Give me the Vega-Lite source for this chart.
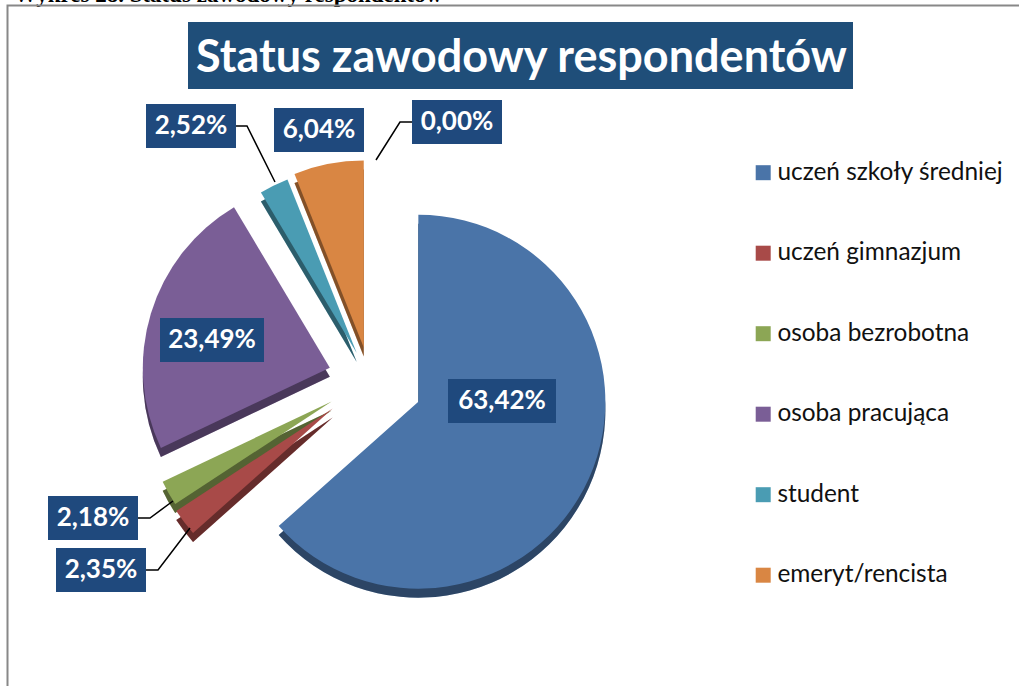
{
"$schema":"https://vega.github.io/schema/vega-lite/v6.json",
"width":1019,"height":686,"padding":0,
"autosize":{"type":"none"},
"background":"white",
"view":{"stroke":null},
"title":{"text":"Status zawodowy respondentów","orient":"none","anchor":"start","frame":"group","dx":196,"dy":72,"font":"Lato","fontSize":45,"fontWeight":"bold","color":"white","baseline":"alphabetic"},
"datasets":{
"slices":[
{"name":"uczeń szkoły średniej","value":63.42,"explode":53},
{"name":"uczeń gimnazjum","value":2.35,"explode":47},
{"name":"osoba bezrobotna","value":2.18,"explode":44},
{"name":"osoba pracująca","value":23.49,"explode":42},
{"name":"student","value":2.52,"explode":30},
{"name":"emeryt/rencista","value":6.04,"explode":33}
],
"callouts":[
{"label":"63,42%","x0":448,"x1":556,"y0":379,"y1":423},
{"label":"2,35%","x0":56,"x1":146,"y0":548,"y1":592},
{"label":"2,18%","x0":48,"x1":138,"y0":496,"y1":540},
{"label":"23,49%","x0":160,"x1":264,"y0":318,"y1":362},
{"label":"2,52%","x0":146,"x1":236,"y0":104,"y1":148},
{"label":"6,04%","x0":274,"x1":364,"y0":108,"y1":152},
{"label":"0,00%","x0":412,"x1":502,"y0":100,"y1":144}
],
"leaders":[
{"k":"a","s":1,"x":236,"y":126},{"k":"a","s":2,"x":247,"y":126},{"k":"a","s":3,"x":275,"y":182},
{"k":"b","s":1,"x":412,"y":122},{"k":"b","s":2,"x":400,"y":122},{"k":"b","s":3,"x":376,"y":160},
{"k":"c","s":1,"x":138,"y":518},{"k":"c","s":2,"x":150,"y":518},{"k":"c","s":3,"x":173,"y":501},
{"k":"d","s":1,"x":146,"y":570},{"k":"d","s":2,"x":158,"y":570},{"k":"d","s":3,"x":190,"y":528}
],
"frame":[
{"k":"f","s":1,"x":7.5,"y":686},{"k":"f","s":2,"x":7.5,"y":5.5},{"k":"f","s":3,"x":1019,"y":5.5}
],
"titlebox":[{"x0":188,"x1":853,"y0":22,"y1":89}],
"caption":[{"t":"Wykres 28. Status zawodowy respondentów","x":14,"y":1.5}]
},
"layer":[
{"data":{"name":"caption"},"mark":{"type":"text","font":"Liberation Serif","fontWeight":"bold","fontSize":23,"align":"left","baseline":"alphabetic","color":"black"},
 "encoding":{"x":{"field":"x","type":"quantitative","scale":{"domain":[0,1019],"nice":false,"zero":false},"axis":null},
  "y":{"field":"y","type":"quantitative","scale":{"domain":[686,0],"nice":false,"zero":false},"axis":null},"text":{"field":"t"}}},
{"data":{"name":"frame"},"mark":{"type":"line","color":"#888888","strokeWidth":2,"interpolate":"linear"},
 "encoding":{"x":{"field":"x","type":"quantitative"},
  "y":{"field":"y","type":"quantitative"},
  "order":{"field":"s"},"detail":{"field":"k"}}},
{"data":{"name":"titlebox"},"mark":{"type":"rect","color":"#1F4E79"},
 "encoding":{"x":{"field":"x0","type":"quantitative"},"x2":{"field":"x1"},"y":{"field":"y0","type":"quantitative"},"y2":{"field":"y1"}}},
{"data":{"name":"slices"},
 "transform":[
  {"window":[{"op":"sum","field":"value","as":"end"}],"frame":[null,0]},
  {"calculate":"datum.end-datum.value","as":"start"},
  {"calculate":"(datum.start+datum.end)/200*2*PI","as":"mid"},
  {"calculate":"370+datum.explode*sin(datum.mid)","as":"cx"},
  {"calculate":"380-datum.explode*cos(datum.mid)","as":"cy"},
  {"calculate":"datum.cy+9","as":"cyDepth"}
 ],
 "encoding":{
  "x":{"field":"cx","type":"quantitative"},
  "theta":{"field":"start","type":"quantitative","scale":{"domain":[0,100],"range":[0,6.283185307]}},
  "theta2":{"field":"end"}
 },
 "layer":[
  {"mark":{"type":"arc","radius":187},
   "encoding":{"y":{"field":"cyDepth","type":"quantitative"},
    "color":{"field":"name","type":"nominal","sort":null,
     "scale":{"domain":["uczeń szkoły średniej","uczeń gimnazjum","osoba bezrobotna","osoba pracująca","student","emeryt/rencista"],"range":["#4A74A8","#A84A48","#8CA655","#7A5E96","#4A9CB3","#D98643"]},
     "legend":{"title":null,"orient":"none","legendX":751,"legendY":160.5,"padding":0,"symbolType":"square","symbolSize":225,"labelFont":"Lato","labelFontSize":24.4,"labelColor":"#111111","rowPadding":55.5,"labelOffset":2,"labelLimit":300,"symbolStrokeWidth":0,"symbolOpacity":1}}}},
  {"mark":{"type":"arc","radius":187,"color":"black","opacity":0.4},
   "encoding":{"y":{"field":"cyDepth","type":"quantitative"}}},
  {"mark":{"type":"arc","radius":187},
   "encoding":{"y":{"field":"cy","type":"quantitative"},"color":{"field":"name","type":"nominal","sort":null}}}
 ]},
{"data":{"name":"leaders"},"mark":{"type":"line","color":"black","strokeWidth":1.5},
 "encoding":{"x":{"field":"x","type":"quantitative"},"y":{"field":"y","type":"quantitative"},"order":{"field":"s"},"detail":{"field":"k"}}},
{"data":{"name":"callouts"},"transform":[{"calculate":"(datum.x0+datum.x1)/2","as":"xc"},{"calculate":"(datum.y0+datum.y1)/2","as":"yc"}],
 "layer":[
  {"mark":{"type":"rect","color":"#1F497D"},
   "encoding":{"x":{"field":"x0","type":"quantitative"},"x2":{"field":"x1"},"y":{"field":"y0","type":"quantitative"},"y2":{"field":"y1"}}},
  {"mark":{"type":"text","font":"Lato","fontWeight":"bold","fontSize":26,"color":"white","align":"center","baseline":"middle"},
   "encoding":{"x":{"field":"xc","type":"quantitative"},"y":{"field":"yc","type":"quantitative"},"text":{"field":"label"}}}
 ]}
]
}
